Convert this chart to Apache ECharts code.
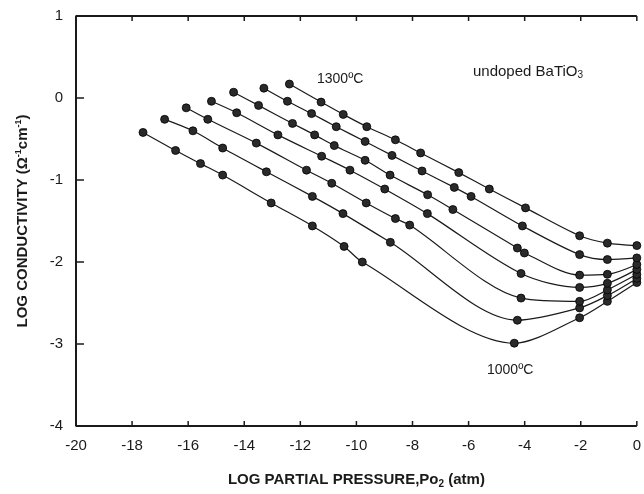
<!DOCTYPE html>
<html>
<head>
<meta charset="utf-8">
<script src="https://cdn.jsdelivr.net/npm/echarts@6/dist/echarts.min.js"></script>
<style>
  html, body { margin: 0; padding: 0; background: #fff; }
  #chart { width: 644px; height: 494px; }
</style>
</head>
<body>
<div id="chart"></div>
<script>
// log Po2 (atm), log conductivity — one array per isotherm
const t1000 = [[-17.61,-0.42],[-16.45,-0.64],[-15.56,-0.80],[-14.77,-0.94],[-13.04,-1.28],[-11.57,-1.56],[-10.44,-1.81],[-9.79,-2.00],[-4.37,-2.99],[-2.04,-2.68],[-1.05,-2.48],[0,-2.25]];
const t1050 = [[-16.84,-0.26],[-15.83,-0.40],[-14.77,-0.61],[-13.21,-0.90],[-11.57,-1.20],[-10.48,-1.41],[-8.79,-1.76],[-4.26,-2.71],[-2.04,-2.56],[-1.05,-2.41],[0,-2.20]];
const t1100 = [[-16.07,-0.12],[-15.30,-0.26],[-13.57,-0.55],[-11.78,-0.88],[-10.88,-1.04],[-9.65,-1.28],[-8.61,-1.47],[-8.10,-1.55],[-4.13,-2.44],[-2.04,-2.48],[-1.05,-2.34],[0,-2.15]];
const t1150 = [[-15.17,-0.04],[-14.27,-0.18],[-12.80,-0.45],[-11.24,-0.71],[-10.23,-0.88],[-8.99,-1.11],[-7.47,-1.41],[-4.13,-2.14],[-2.04,-2.31],[-1.05,-2.26],[0,-2.09]];
const t1200 = [[-14.38,0.07],[-13.49,-0.09],[-12.28,-0.31],[-11.49,-0.45],[-10.79,-0.58],[-9.69,-0.76],[-8.80,-0.94],[-7.46,-1.18],[-6.56,-1.36],[-4.26,-1.83],[-4.01,-1.89],[-2.04,-2.16],[-1.05,-2.15],[0,-2.03]];
const t1250 = [[-13.30,0.12],[-12.46,-0.04],[-11.60,-0.19],[-10.72,-0.35],[-9.69,-0.53],[-8.73,-0.70],[-7.66,-0.89],[-6.51,-1.09],[-5.91,-1.20],[-4.08,-1.56],[-2.04,-1.91],[-1.05,-1.97],[0,-1.95]];
const t1300 = [[-12.39,0.17],[-11.26,-0.05],[-10.47,-0.20],[-9.63,-0.35],[-8.61,-0.51],[-7.71,-0.67],[-6.35,-0.91],[-5.26,-1.11],[-3.97,-1.34],[-2.04,-1.68],[-1.05,-1.77],[0,-1.80]];

const isotherms = [t1000, t1050, t1100, t1150, t1200, t1250, t1300];
const names = ['1000', '1050', '1100', '1150', '1200', '1250', '1300'];

// tick values of the frame
const xTicks = [-20, -18, -16, -14, -12, -10, -8, -6, -4, -2, 0];
const yTicks = [-4, -3, -2, -1, 0, 1];
const X_MIN = -20, X_MAX = 0, Y_MIN = -4, Y_MAX = 1;

const FONT = '"Liberation Sans", Arial, sans-serif';
const INK = '#1a1a1a';

const chart = echarts.init(document.getElementById('chart'), null, { renderer: 'canvas' });

const series = isotherms.map((d, i) => ({
    name: names[i],
    type: 'line',
    data: d,
    smooth: 0.3,
    clip: false,
    symbol: 'circle',
    symbolSize: 8,
    z: 3,
    lineStyle: { color: INK, width: 1.2 },
    itemStyle: { color: '#2a2a2a', borderColor: '#000', borderWidth: 0.8 },
    emphasis: { disabled: true }
}));

// frame: top, left and bottom edges (the reference has no right edge)
series.push({
    type: 'line',
    data: [[X_MAX, Y_MAX], [X_MIN, Y_MAX], [X_MIN, Y_MIN], [X_MAX, Y_MIN]],
    symbol: 'none',
    clip: false,
    silent: true,
    z: 3,
    lineStyle: { color: INK, width: 2 }
});

// inward ticks; dx/dy are the pixel direction of each tick from the frame
function tickSeries(points, dx, dy) {
    return {
        type: 'custom',
        data: points,
        clip: false,
        silent: true,
        z: 3,
        renderItem: function (params, api) {
            const p = api.coord([api.value(0), api.value(1)]);
            return {
                type: 'line',
                shape: { x1: p[0], y1: p[1], x2: p[0] + dx, y2: p[1] + dy },
                style: { stroke: INK, lineWidth: 1.5 }
            };
        }
    };
}
series.push(tickSeries(xTicks.map(v => [v, Y_MIN]), 0, -5));
series.push(tickSeries(xTicks.map(v => [v, Y_MAX]), 0, 5));
series.push(tickSeries(yTicks.map(v => [X_MIN, v]), 8, 0));

chart.setOption({
    animation: false,
    backgroundColor: '#fff',
    grid: { left: 76, right: 5, top: 16, bottom: 68 },
    xAxis: {
        type: 'value',
        min: X_MIN, max: X_MAX, interval: 2,
        axisLine: { show: false, onZero: false },
        axisTick: { show: false },
        axisLabel: { color: INK, fontFamily: FONT, fontSize: 15, margin: 12 },
        splitLine: { show: false },
        name: 'LOG PARTIAL PRESSURE,Po{sub|2} (atm)',
        nameLocation: 'middle',
        nameGap: 45,
        nameTextStyle: {
            color: INK, fontFamily: FONT, fontSize: 15, fontWeight: 'bold',
            rich: { sub: { fontSize: 10, fontWeight: 'bold', fontFamily: FONT, color: INK, verticalAlign: 'bottom', padding: [8, 0, 0, 0] } }
        }
    },
    yAxis: {
        type: 'value',
        min: Y_MIN, max: Y_MAX, interval: 1,
        position: 'left',
        axisLine: { show: false, onZero: false },
        axisTick: { show: false },
        axisLabel: { color: INK, fontFamily: FONT, fontSize: 15, margin: 13 },
        splitLine: { show: false },
        name: 'LOG CONDUCTIVITY (Ω{sup|-1}cm{sup|-1})',
        nameLocation: 'middle',
        nameGap: 45,
        nameTextStyle: {
            color: INK, fontFamily: FONT, fontSize: 15, fontWeight: 'bold',
            rich: { sup: { fontSize: 9, fontWeight: 'bold', fontFamily: FONT, color: INK, verticalAlign: 'top', padding: [0, 0, 8, 0] } }
        }
    },
    series: series,
    graphic: [
        {
            type: 'text', left: 317, top: 72, z: 4,
            style: { text: '1300ºC', font: '14px ' + FONT, fill: INK }
        },
        {
            type: 'text', left: 487, top: 363, z: 4,
            style: { text: '1000ºC', font: '14px ' + FONT, fill: INK }
        },
        {
            type: 'text', left: 473, top: 64, z: 4,
            style: {
                text: 'undoped BaTiO{sub|3}',
                font: '15px ' + FONT, fill: INK,
                rich: { sub: { fontSize: 10, fontFamily: FONT, fill: INK, verticalAlign: 'bottom', padding: [8, 0, 0, 0] } }
            }
        }
    ]
});
</script>
</body>
</html>
